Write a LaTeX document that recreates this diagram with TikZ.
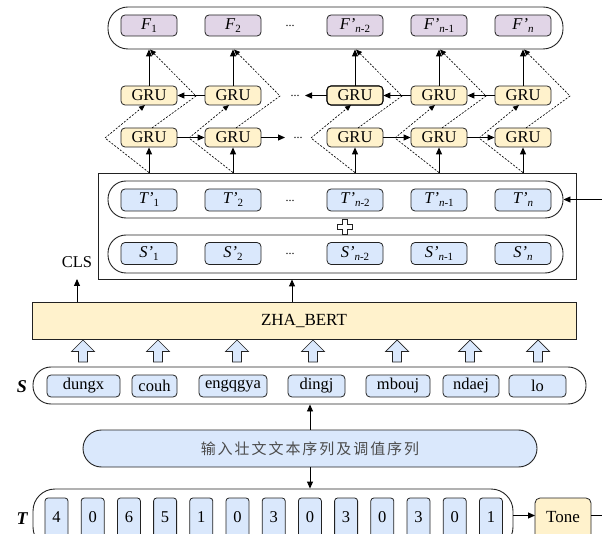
\documentclass[tikz,border=0pt]{standalone}
\usepackage{fontspec}
\setmainfont{Liberation Serif}
\newfontfamily\cjk[LetterSpace=13]{Noto Sans CJK SC}
\usetikzlibrary{arrows.meta}

\definecolor{purp}{HTML}{E1D5E7}
\definecolor{yel}{HTML}{FFF2CC}
\definecolor{blu}{HTML}{DAE8FC}
\definecolor{edge}{HTML}{222222}

% italic letter with optional prime and a small lowered index
\newcommand\lbl[3]{\textit{#1#2}\raisebox{-0.4ex}{\fontsize{11}{11}\selectfont #3}}
\newcommand\dotsx{{\fontsize{12}{12}\selectfont ...}}

\tikzset{
  every node/.style={font=\fontsize{16.5}{18}\selectfont, inner sep=0pt},
  box/.style={draw=edge, line width=0.8pt, rounded corners=4pt},
  fnode/.style={box, fill=purp, minimum width=56pt, minimum height=21pt},
  grunode/.style={box, fill=yel, minimum width=56pt, minimum height=19pt},
  tsnode/.style={box, fill=blu, minimum width=56pt, minimum height=22pt},
  wordnode/.style={box, fill=blu, minimum height=22pt},
  digit/.style={box, fill=blu, rounded corners=3pt, minimum width=23pt, minimum height=42pt},
  pill/.style={draw=edge, line width=0.9pt, rounded corners=18pt},
  arr/.style={line width=0.9pt, -{Triangle[length=7pt,width=6pt]}},
  dsh/.style={line width=0.65pt, dash pattern=on 2pt off 1.5pt},
  blockarrow/.style={draw=edge, line width=0.7pt, fill=blu},
}

\begin{document}
\begin{tikzpicture}[x=1pt, y=-1pt]
\useasboundingbox (0,0) rectangle (602,534);

% ---------- output row F ----------
\node[pill, rounded corners=20pt, minimum width=455pt, minimum height=42pt] (fbox) at (335.5,28) {};
\node[fnode] (f1) at (149,25.5) {\lbl{F}{}{1}};
\node[fnode] (f2) at (233,25.5) {\lbl{F}{}{2}};
\node[fnode] (f3) at (355,25.5) {\lbl{F}{'}{\textit{n}-2}};
\node[fnode] (f4) at (439,25.5) {\lbl{F}{'}{\textit{n}-1}};
\node[fnode] (f5) at (523,25.5) {\lbl{F}{'}{\textit{n}}};
\node (fdots) at (290,26) {\dotsx};

% ---------- two GRU layers ----------
\foreach \i/\x in {1/149,2/233,3/355,4/439,5/523}{
  \node[grunode] (gu\i) at (\x,95.5) {GRU};
  \node[grunode] (gl\i) at (\x,137.5) {GRU};
}
\node[grunode, line width=1.05pt, draw=black] at (gu3) {GRU};
\node (udots) at (295,96) {\dotsx};
\node (ldots) at (298,138) {\dotsx};
\coordinate (uend) at (305,95.5);
\coordinate (lend) at (285,137.5);

% forward layer
\draw[arr] (gl1.east) -- (gl2.west);
\draw[arr] (gl2.east) -- (lend);
\draw[arr] (gl3.east) -- (gl4.west);
\draw[arr] (gl4.east) -- (gl5.west);
% backward layer
\draw[arr] (gu2.west) -- (gu1.east);
\draw[arr] (gu3.west) -- (uend);
\draw[arr] (gu4.west) -- (gu3.east);
\draw[arr] (gu5.west) -- (gu4.east);

% ---------- embedding block ----------
\node[draw=edge, line width=0.9pt, minimum width=478pt, minimum height=106pt] (mid) at (337,226) {};
\node[pill, minimum width=455pt, minimum height=37pt] (trow) at (335.5,199.5) {};
\node[pill, minimum width=455pt, minimum height=38pt] (srow) at (335.5,254) {};
\node[tsnode] (t1) at (149,200) {\lbl{T}{'}{1}};
\node[tsnode] (t2) at (233,200) {\lbl{T}{'}{2}};
\node[tsnode] (t3) at (355,200) {\lbl{T}{'}{\textit{n}-2}};
\node[tsnode] (t4) at (439,200) {\lbl{T}{'}{\textit{n}-1}};
\node[tsnode] (t5) at (523,200) {\lbl{T}{'}{\textit{n}}};
\node[tsnode] (s1) at (149,253.5) {\lbl{S}{'}{1}};
\node[tsnode] (s2) at (233,253.5) {\lbl{S}{'}{2}};
\node[tsnode] (s3) at (355,253.5) {\lbl{S}{'}{\textit{n}-2}};
\node[tsnode] (s4) at (439,253.5) {\lbl{S}{'}{\textit{n}-1}};
\node[tsnode] (s5) at (523,253.5) {\lbl{S}{'}{\textit{n}}};
\node (tdots) at (290,201) {\dotsx};
\node (sdots) at (290,254) {\dotsx};
% plus sign between the two rows
\draw[draw=edge, line width=0.8pt, fill=white]
  (342.5,219.5) -- (347.5,219.5) -- (347.5,224.5) -- (352.5,224.5) -- (352.5,229.5)
  -- (347.5,229.5) -- (347.5,234.5) -- (342.5,234.5) -- (342.5,229.5) -- (337.5,229.5)
  -- (337.5,224.5) -- (342.5,224.5) -- cycle;

% ---------- vertical links and skip connections ----------
\foreach \i/\x in {1/149,2/233,3/355,4/439,5/523}{
  \draw[arr] (gl\i.south |- mid.north) -- (gl\i.south);
  \draw[arr] (gu\i.north) -- (gu\i.north |- fbox.south);
  \draw[dsh, -{Triangle[length=6pt,width=5pt]}] (gl\i.south |- mid.north) -- ({\x-44},138) -- ({\x-4},105);
  \draw[dsh, -{Triangle[length=6pt,width=5pt]}] ({\x+3},128) -- ({\x+47},96) -- ({\x+1},49.5);
}

% ---------- encoder ----------
\node[draw=edge, line width=0.9pt, fill=yel, minimum width=544pt, minimum height=37pt,
      font=\fontsize{17}{18}\selectfont] (bert) at (304,320.5) {ZHA\_BERT};
\node (cls) at (77,262.5) {CLS};
\coordinate (clsin) at (77,279);
\draw[arr] (bert.north -| clsin) -- (clsin);
\draw[arr] (292,0 |- bert.north) -- (292,0 |- mid.south);

% ---------- syllable row S ----------
\node[pill, minimum width=553pt, minimum height=37pt] (sbox) at (309.5,385.5) {};
\node[font=\bfseries\itshape\fontsize{18}{18}\selectfont] (slab) at (22,387) {S};
\node[wordnode, minimum width=73pt] (w1) at (83.5,386) {dungx};
\node[wordnode, minimum width=45pt] (w2) at (154.5,386) {couh};
\node[wordnode, minimum width=68pt] (w3) at (233,386) {engqgya};
\node[wordnode, minimum width=57pt] (w4) at (316.5,386) {dingj};
\node[wordnode, minimum width=64pt] (w5) at (398,386) {mbouj};
\node[wordnode, minimum width=56pt] (w6) at (471,386) {ndaej};
\node[wordnode, minimum width=57pt] (w7) at (537.5,386) {lo};
\foreach \x in {83,158,237,313,397,470,538}{
  \draw[blockarrow] ({\x-4.5},362) -- ({\x+4.5},362) -- ({\x+4.5},351.5) -- ({\x+11.5},351.5)
    -- (\x,340) -- ({\x-11.5},351.5) -- ({\x-4.5},351.5) -- cycle;
}

% ---------- input ----------
\node[pill, fill=blu, rounded corners=18.5pt, minimum width=454pt, minimum height=37pt,
      font=\cjk\fontsize{15}{16}\selectfont, text=black!70] (inp) at (310,448.5) {输入壮文文本序列及调值序列};
\draw[arr] (inp.north) -- (inp.north |- sbox.south);

% ---------- tone row T ----------
\node[pill, rounded corners=22pt, minimum width=480pt, minimum height=60pt] (tbox) at (273,519) {};
\draw[arr] (inp.south) -- (inp.south |- tbox.north);
\node[font=\bfseries\itshape\fontsize{18}{18}\selectfont] (tlab) at (22,519) {T};
\foreach \d [count=\k from 0] in {4,0,6,5,1,0,3,0,3,0,3,0,1}{
  \node[digit] (d\k) at ({56.5+36.2*\k},519) {\raisebox{3.5pt}{\d}};
}
\node[box, fill=yel, rounded corners=5pt, minimum width=56pt, minimum height=42pt,
      font=\fontsize{17}{18}\selectfont] (tone) at (563,519) {\raisebox{3.5pt}{Tone}};
\coordinate (tonein) at (535,515.5);
\draw[arr] (tbox.east |- tonein) -- (tonein);
% tone features feed back into the T' row
\draw[arr] (tone.east |- tonein) -- (614,0 |- tonein) -- (614,0 |- trow.east) -- (trow.east);
\end{tikzpicture}
\end{document}
